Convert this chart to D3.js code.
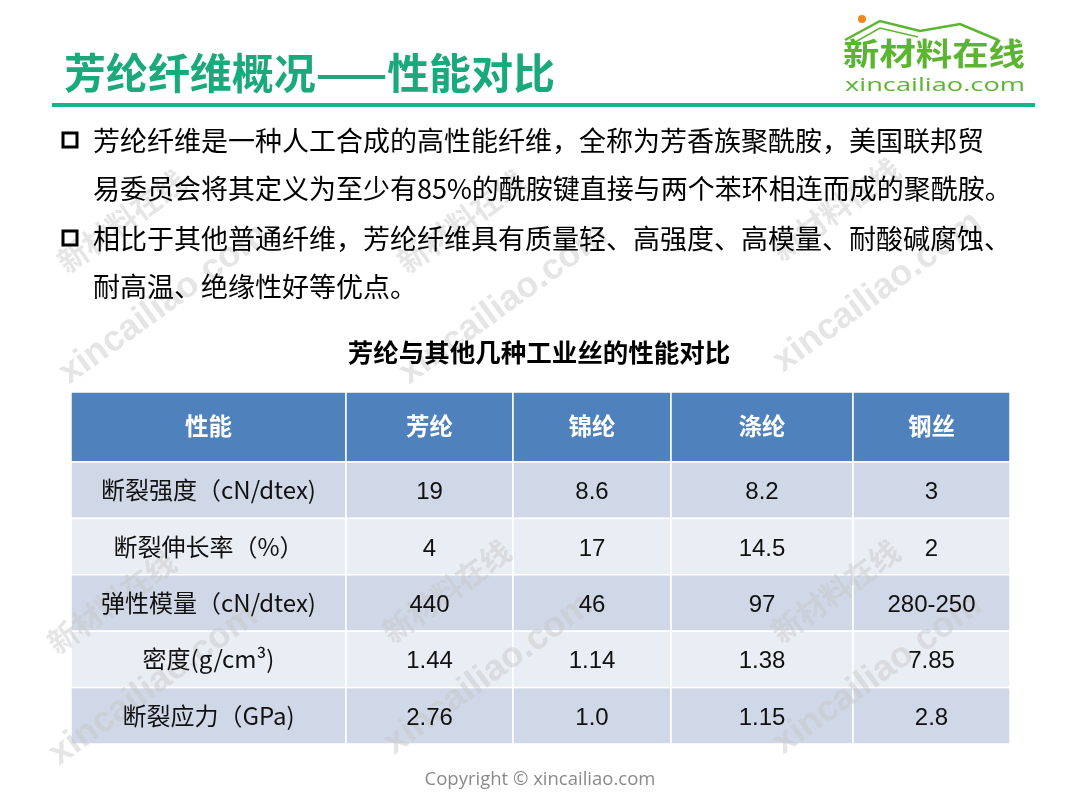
<!DOCTYPE html>
<html>
<head>
<meta charset="utf-8">
<script src="https://cdn.jsdelivr.net/npm/d3@7"></script>
<style>
  body { margin: 0; background: #fff; }
  svg { display: block; }
</style>
</head>
<body>
<div id="slide"></div>
<script>
// table data
var materials = ["芳纶", "锦纶", "涤纶", "钢丝"];
var properties = ["断裂强度（cN/dtex)", "断裂伸长率（%）", "弹性模量（cN/dtex)", "密度(g/cm³)", "断裂应力（GPa)"];
var aramid = ["19", "4", "440", "1.44", "2.76"];
var nylon = ["8.6", "17", "46", "1.14", "1.0"];
var polyester = ["8.2", "14.5", "97", "1.38", "1.15"];
var steel = ["3", "2", "280-250", "7.85", "2.8"];
var headerLabel = "性能";

var bullets = [
    ["芳纶纤维是一种人工合成的高性能纤维，全称为芳香族聚酰胺，美国联邦贸",
     "易委员会将其定义为至少有85%的酰胺键直接与两个苯环相连而成的聚酰胺。"],
    ["相比于其他普通纤维，芳纶纤维具有质量轻、高强度、高模量、耐酸碱腐蚀、",
     "耐高温、绝缘性好等优点。"]
];

var W = 1080, H = 810;
var cjk = "'Noto Sans CJK SC', 'Microsoft YaHei', sans-serif";
var arial = "'Liberation Sans', 'Noto Sans CJK SC', sans-serif";

var svg = d3.select("#slide").append("svg")
    .attr("width", W)
    .attr("height", H);

// layers: cell fills, then watermark, then all text on top
var base = svg.append("g").attr("class", "base");
var wm = svg.append("g").attr("class", "watermark").attr("opacity", 0.45);
var fg = svg.append("g").attr("class", "fg");

// watermarks
[[122, 222], [462, 222], [836, 210], [112, 603], [447, 592], [836, 592]].forEach(function(c) {
    wm.append("text")
        .attr("transform", "translate(" + c[0] + "," + c[1] + ") rotate(-36)")
        .attr("text-anchor", "middle")
        .attr("dy", "0.35em")
        .attr("font-family", cjk)
        .attr("font-weight", "bold")
        .attr("font-size", 30)
        .attr("fill", "#c4c4c4")
        .text("新材料在线");
    wm.append("text")
        .attr("transform", "translate(" + (c[0] + 40) + "," + (c[1] + 80) + ") rotate(-36)")
        .attr("text-anchor", "middle")
        .attr("dy", "0.35em")
        .attr("font-family", arial)
        .attr("font-weight", "bold")
        .attr("font-size", 36)
        .attr("fill", "#c4c4c4")
        .text("xincailiao.com");
});

// title
fg.append("text")
    .attr("x", 64)
    .attr("y", 89)
    .attr("font-family", cjk)
    .attr("font-weight", "bold")
    .attr("font-size", 42)
    .attr("textLength", 491)
    .attr("fill", "#1aa97b")
    .text("芳纶纤维概况——性能对比");

base.append("rect")
    .attr("x", 52).attr("y", 103)
    .attr("width", 983).attr("height", 4)
    .attr("fill", "#17b389");

// logo
var logo = fg.append("g").attr("class", "logo");
logo.append("path")
    .attr("d", "M845,40 L880,21 L920,31 L960,24 L998,40")
    .attr("fill", "none")
    .attr("stroke", "#5cb531")
    .attr("stroke-width", 2.5);
logo.append("path")
    .attr("d", "M850,45 L880,28 L918,37")
    .attr("fill", "none")
    .attr("stroke", "#5cb531")
    .attr("stroke-width", 1.5);
logo.append("circle")
    .attr("cx", 862).attr("cy", 19).attr("r", 4)
    .attr("fill", "#f08a1c");
logo.append("text")
    .attr("x", 843).attr("y", 65)
    .attr("font-family", cjk)
    .attr("font-weight", "bold")
    .attr("font-size", 31)
    .attr("textLength", 182)
    .attr("lengthAdjust", "spacingAndGlyphs")
    .attr("fill", "#5cb531")
    .text("新材料在线");
logo.append("text")
    .attr("x", 845).attr("y", 91)
    .attr("font-family", "'Open Sans', sans-serif")
    .attr("font-size", 19)
    .attr("textLength", 180)
    .attr("lengthAdjust", "spacingAndGlyphs")
    .attr("fill", "#5cb531")
    .text("xincailiao.com");

// bullet paragraphs
var lineY = [[151, 199], [249, 297]];
bullets.forEach(function(lines, i) {
    fg.append("rect")
        .attr("x", 63).attr("y", lineY[i][0] - 18)
        .attr("width", 14).attr("height", 14)
        .attr("fill", "none")
        .attr("stroke", "#000")
        .attr("stroke-width", 3);
    lines.forEach(function(t, j) {
        fg.append("text")
            .attr("x", 93)
            .attr("y", lineY[i][j])
            .attr("font-family", cjk)
            .attr("font-size", 27)
            .attr("fill", "#000")
            .text(t);
    });
});

// table caption
fg.append("text")
    .attr("x", 539).attr("y", 362)
    .attr("text-anchor", "middle")
    .attr("font-family", cjk)
    .attr("font-weight", "bold")
    .attr("font-size", 25.5)
    .attr("fill", "#000")
    .text("芳纶与其他几种工业丝的性能对比");

// table
var colEdges = [71, 346, 513, 671, 853, 1010];
var columns = [headerLabel].concat(materials);
var series = [aramid, nylon, polyester, steel];

var x = d3.scaleOrdinal().domain(columns).range(colEdges.slice(0, 5));
var colW = function(c) { var i = columns.indexOf(c); return colEdges[i + 1] - colEdges[i]; };

var headerTop = 392, headerH = 70;
var y = d3.scaleBand()
    .domain(properties)
    .range([headerTop + headerH, 744]);

// header row
base.selectAll("rect.head")
    .data(columns).enter()
    .append("rect")
    .attr("class", "head")
    .attr("x", function(d) { return x(d); })
    .attr("y", headerTop)
    .attr("width", colW)
    .attr("height", headerH)
    .attr("fill", "#4f81bd")
    .attr("stroke", "#fff")
    .attr("stroke-width", 1.5);
fg.selectAll("text.head")
    .data(columns).enter()
    .append("text")
    .attr("class", "head")
    .attr("x", function(d) { return x(d) + colW(d) / 2; })
    .attr("y", headerTop + headerH / 2 + 8)
    .attr("text-anchor", "middle")
    .attr("font-family", cjk)
    .attr("font-weight", "bold")
    .attr("font-size", 23.5)
    .attr("fill", "#fff")
    .text(function(d) { return d; });

// body rows
properties.forEach(function(p, ri) {
    var cells = [p].concat(series.map(function(s) { return s[ri]; }));
    cells.forEach(function(v, ci) {
        var c = columns[ci];
        base.append("rect")
            .attr("x", x(c))
            .attr("y", y(p))
            .attr("width", colW(c))
            .attr("height", y.bandwidth())
            .attr("fill", ri % 2 === 0 ? "#d0d8e8" : "#e9edf4")
            .attr("stroke", "#fff")
            .attr("stroke-width", 1.5);
        fg.append("text")
            .attr("x", x(c) + colW(c) / 2)
            .attr("y", y(p) + y.bandwidth() / 2 + 9)
            .attr("text-anchor", "middle")
            .attr("font-family", ci === 0 ? cjk : arial)
            .attr("font-size", 24)
            .attr("fill", "#111")
            .text(v);
    });
});

// footer
fg.append("text")
    .attr("x", 540).attr("y", 785)
    .attr("text-anchor", "middle")
    .attr("font-family", "'Open Sans', sans-serif")
    .attr("font-size", 18.5)
    .attr("fill", "#8a8a8a")
    .text("Copyright © xincailiao.com");
</script>
</body>
</html>
